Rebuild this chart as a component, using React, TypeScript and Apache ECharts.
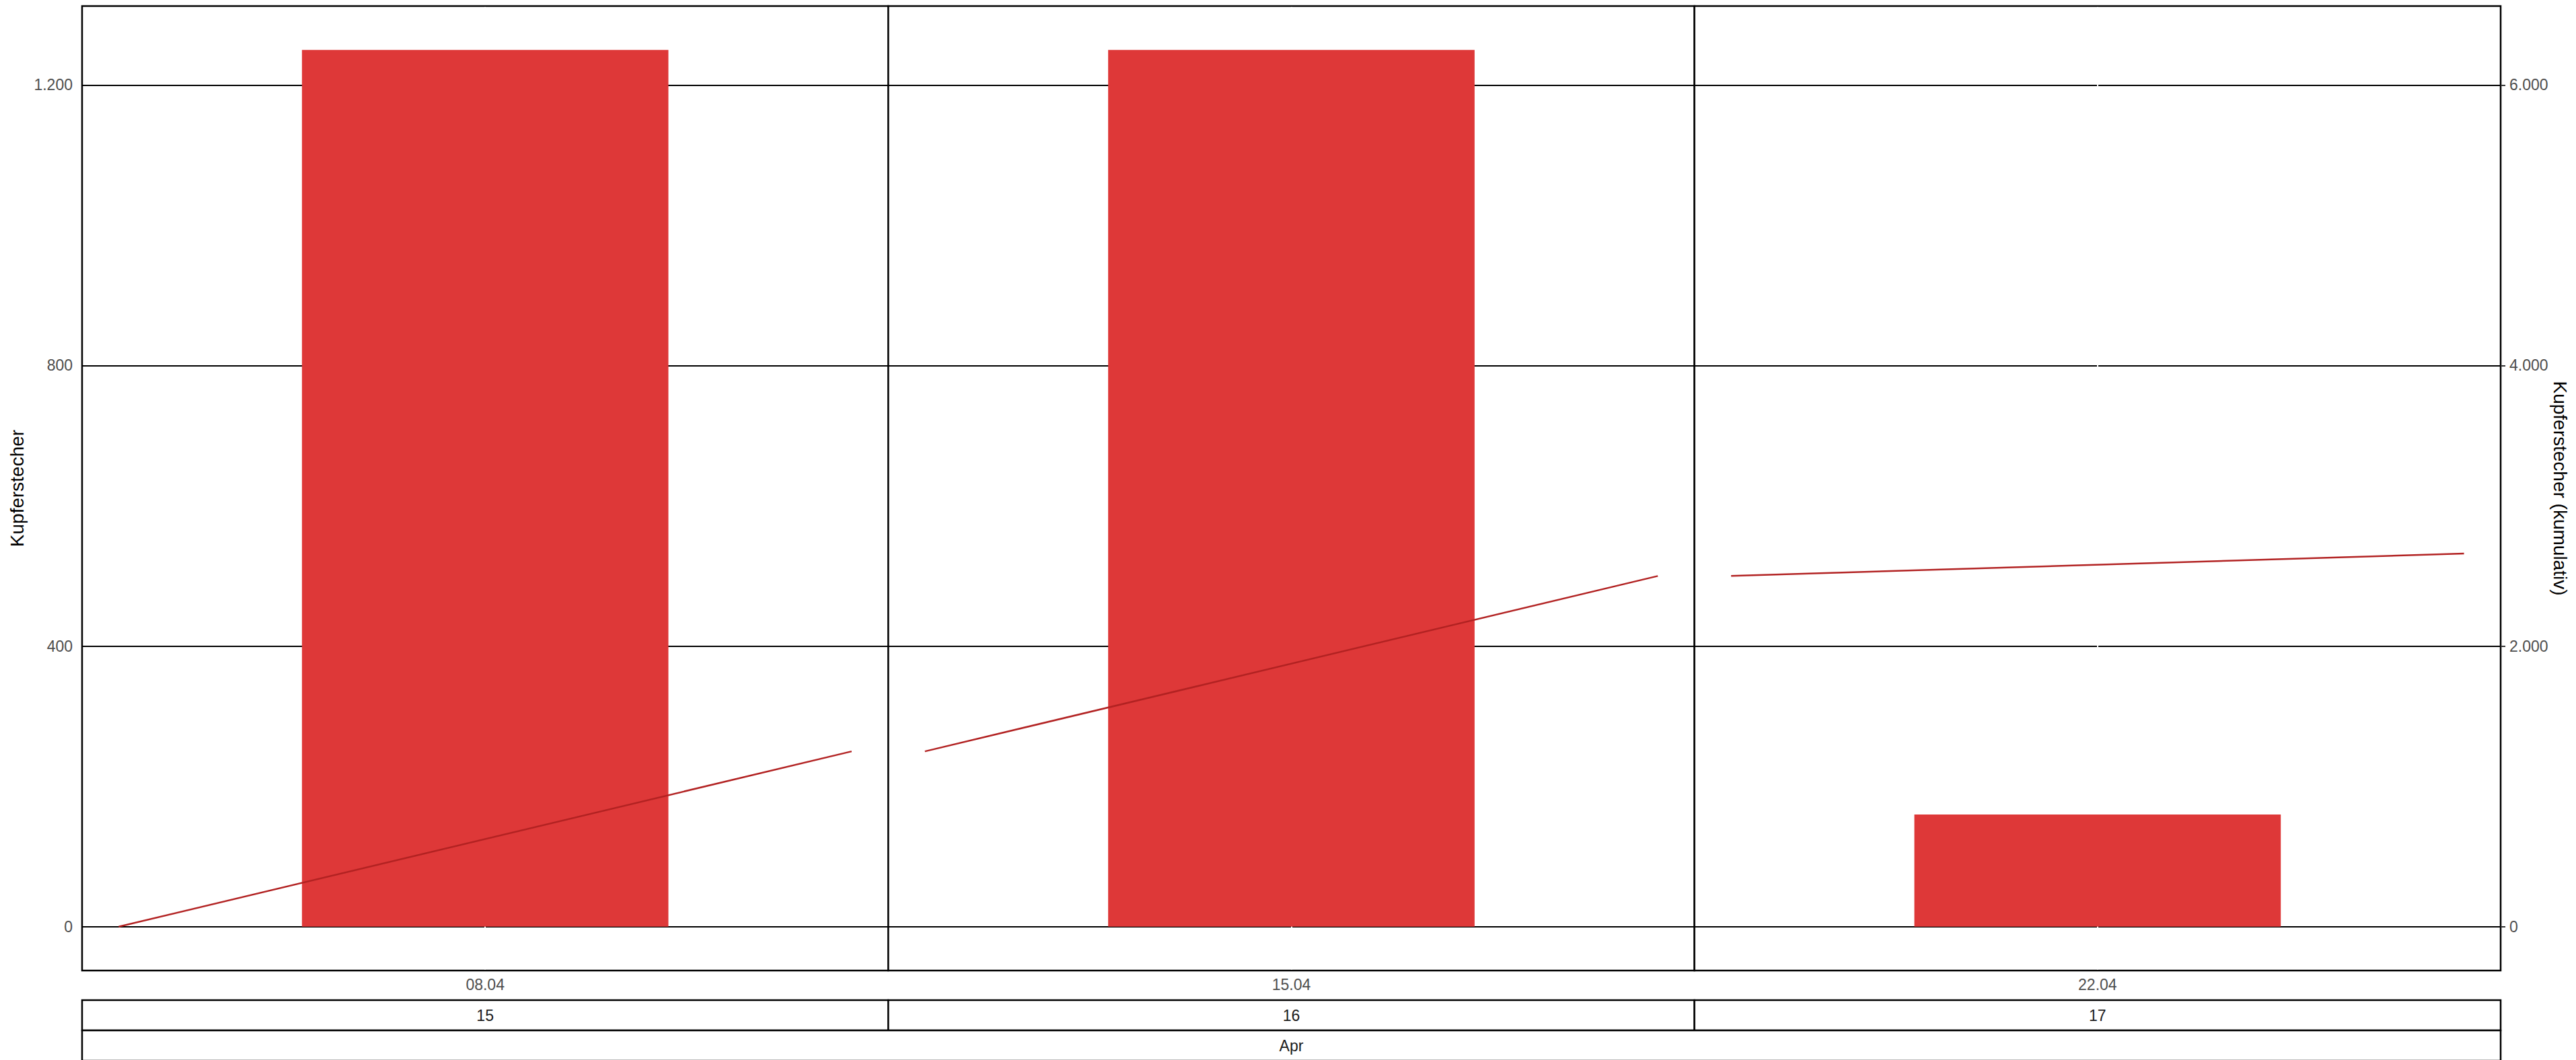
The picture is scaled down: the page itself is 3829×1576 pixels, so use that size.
import React, { useEffect, useRef } from "react";
import * as echarts from "echarts";

// ---- data ----
const weekDates = ["08.04", "15.04", "22.04"];
const weekNumbers = ["15", "16", "17"];
const monthLabels = ["Apr"];
const weeklyCounts = [1250, 1250, 160];
const cumulativeStart = [0, 1250, 2500];
const cumulativeEnd = [1250, 2500, 2660];
const lineOffsets = [-3.5, 3.5];
const leftTicks = [0, 400, 800, 1200];
const rightTicks = [0, 2000, 4000, 6000];

// ---- layout ----
const W = 3829;
const H = 1576;
const panelLeft = 122;
const panelRight = 3717;
const panelTop = 9;
const panelBottom = 1443;
const facetW = (panelRight - panelLeft) / 3;
const xMin = -3.85;
const xMax = 3.85;
const yMin = -62.5;
const yMax = 1312.5;
const barDays = 3.5;
const strip1Top = 1487;
const stripH = 45;

const FONT = "Liberation Sans, Arial, Helvetica, sans-serif";

const fmtDe = (v: number) => {
  const s = Math.round(v).toString();
  return s.replace(/\B(?=(\d{3})+(?!\d))/g, ".");
};

export default function App() {
  const ref = useRef<HTMLDivElement>(null);
  useEffect(() => {
    if (!ref.current) return;
    const chart = echarts.init(ref.current, null, { renderer: "svg", width: W, height: H });

    const n = weekDates.length;
    const grids = weekDates.map((_, i) => ({
      left: panelLeft + i * facetW,
      top: panelTop,
      width: facetW,
      height: panelBottom - panelTop,
      show: true,
      borderColor: "#000",
      borderWidth: 2.5,
      backgroundColor: "#fff",
      containLabel: false,
    }));

    const xAxes = weekDates.map((d, i) => ({
      type: "value",
      gridIndex: i,
      min: xMin,
      max: xMax,
      axisLine: { show: false },
      splitLine: { show: false },
      axisTick: {
        show: true,
        customValues: [0],
        length: 7,
        lineStyle: { color: "#333", width: 2 },
      },
      axisLabel: {
        customValues: [0],
        formatter: () => d,
        fontSize: 23,
        color: "#4D4D4D",
        margin: 9,
        fontFamily: FONT,
      },
    }));

    const leftY = weekDates.map((_, i) => ({
      type: "value",
      gridIndex: i,
      min: yMin,
      max: yMax,
      position: "left",
      name: i === 0 ? "Kupferstecher" : "",
      nameLocation: "middle",
      nameRotate: 90,
      nameGap: 83,
      nameTextStyle: { fontSize: 28, color: "#000", fontFamily: FONT },
      axisLine: { show: false },
      splitLine: { show: false },
      axisTick: {
        show: i === 0,
        customValues: leftTicks,
        length: 7,
        lineStyle: { color: "#333", width: 2 },
      },
      axisLabel: {
        show: i === 0,
        customValues: leftTicks,
        formatter: (v: number) => fmtDe(v),
        fontSize: 23,
        color: "#4D4D4D",
        margin: 14,
        fontFamily: FONT,
      },
    }));

    const rightY = weekDates.map((_, i) => ({
      type: "value",
      gridIndex: i,
      min: -312.5,
      max: 6562.5,
      position: "right",
      show: i === n - 1,
      name: i === n - 1 ? "Kupferstecher (kumulativ)" : "",
      nameLocation: "middle",
      nameRotate: -90,
      nameGap: 74,
      nameTextStyle: { fontSize: 28, color: "#000", fontFamily: FONT },
      axisLine: { show: false },
      splitLine: { show: false },
      axisTick: {
        show: true,
        customValues: rightTicks,
        length: 7,
        lineStyle: { color: "#333", width: 2 },
      },
      axisLabel: {
        customValues: rightTicks,
        formatter: (v: number) => fmtDe(v),
        fontSize: 23,
        color: "#4D4D4D",
        margin: 13,
        fontFamily: FONT,
      },
    }));

    const barSeries = weekDates.map((_, i) => ({
      type: "bar",
      xAxisIndex: i,
      yAxisIndex: i,
      data: [[0, weeklyCounts[i]]],
      barWidth: (barDays / (xMax - xMin)) * facetW,
      itemStyle: { color: "#DE3838" },
      z: 2,
      markLine: {
        silent: true,
        symbol: "none",
        z: 1,
        label: { show: false },
        animation: false,
        data: [
          ...leftTicks.map((t) => ({
            yAxis: t,
            lineStyle: { color: "#000", width: 2, type: "solid" },
          })),
          [
            { coord: [0, yMin + 1.5], lineStyle: { color: "#fff", width: 2, type: "solid" } },
            { coord: [0, yMax - 1.5] },
          ],
        ],
      },
    }));

    const lineSeries = weekDates.map((_, i) => ({
      type: "line",
      xAxisIndex: i,
      yAxisIndex: n + i,
      data: [
        [lineOffsets[0], cumulativeStart[i]],
        [lineOffsets[1], cumulativeEnd[i]],
      ],
      symbol: "none",
      lineStyle: { color: "#B22222", width: 2.5 },
      z: 3,
    }));

    const graphics: any[] = [];
    weekNumbers.forEach((w, i) => {
      const x = panelLeft + i * facetW;
      graphics.push({
        type: "rect",
        shape: { x, y: strip1Top, width: facetW, height: stripH },
        style: { fill: "#fff", stroke: "#000", lineWidth: 2.5 },
      });
      graphics.push({
        type: "text",
        x: x + facetW / 2,
        y: strip1Top + stripH / 2,
        style: {
          text: w,
          fontSize: 23,
          fontFamily: FONT,
          fill: "#1A1A1A",
          textAlign: "center",
          align: "center",
          textVerticalAlign: "middle",
          verticalAlign: "middle",
        },
      });
    });
    monthLabels.forEach((m) => {
      graphics.push({
        type: "rect",
        shape: { x: panelLeft, y: strip1Top + stripH, width: panelRight - panelLeft, height: stripH },
        style: { fill: "#fff", stroke: "#000", lineWidth: 2.5 },
      });
      graphics.push({
        type: "text",
        x: (panelLeft + panelRight) / 2,
        y: strip1Top + stripH * 1.5,
        style: {
          text: m,
          fontSize: 23,
          fontFamily: FONT,
          fill: "#1A1A1A",
          textAlign: "center",
          align: "center",
          textVerticalAlign: "middle",
          verticalAlign: "middle",
        },
      });
    });

    chart.setOption({
      animation: false,
      backgroundColor: "#fff",
      grid: grids,
      xAxis: xAxes,
      yAxis: [...leftY, ...rightY],
      series: [...barSeries, ...lineSeries],
      graphic: graphics,
    } as any);

    return () => chart.dispose();
  }, []);

  return (
    <div
      ref={ref}
      style={{ position: "fixed", left: 0, top: 0, width: W, height: H }}
    />
  );
}
